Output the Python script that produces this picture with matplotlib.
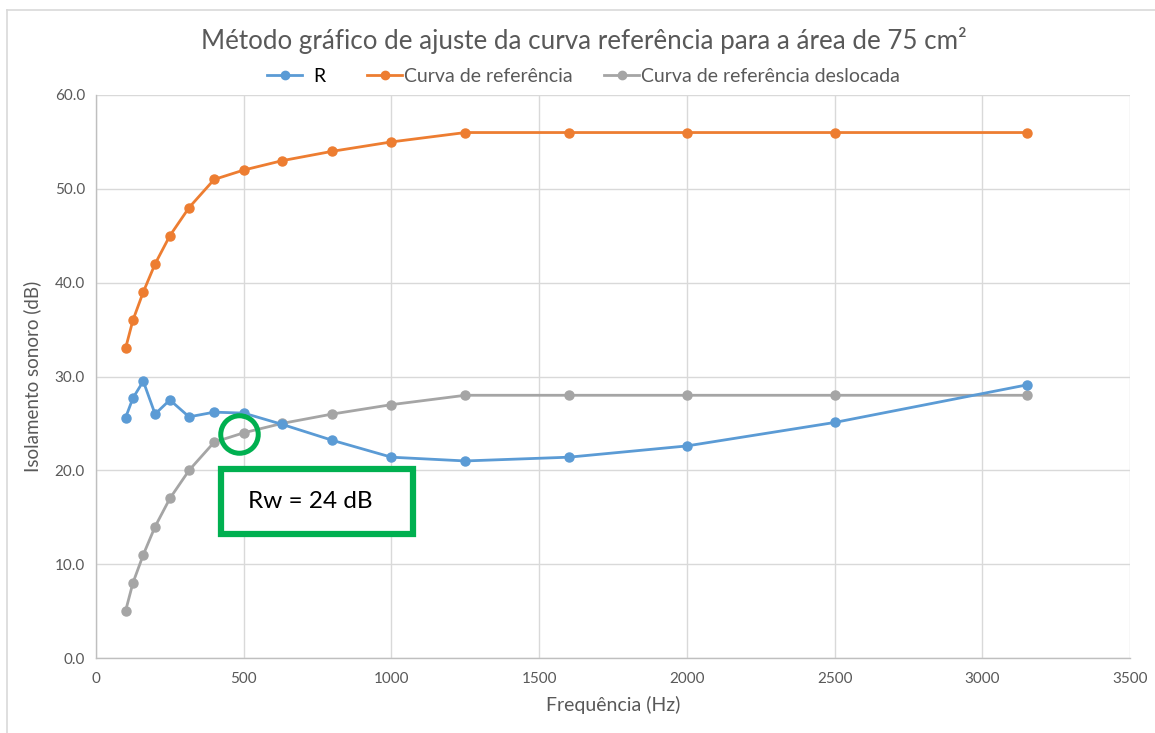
import matplotlib
matplotlib.use("Agg")
import matplotlib.pyplot as plt
from matplotlib.patches import Rectangle
from matplotlib.lines import Line2D

plt.rcParams['font.family'] = ['Lato', 'DejaVu Sans']

# Data
freqs = [100, 125, 160, 200, 250, 315, 400, 500, 630, 800, 1000, 1250, 1600, 2000, 2500, 3150]
r_values = [25.6, 27.7, 29.5, 26.0, 27.5, 25.7, 26.2, 26.1, 24.9, 23.2, 21.4, 21.0, 21.4, 22.6, 25.1, 29.1]
ref_curve = [33, 36, 39, 42, 45, 48, 51, 52, 53, 54, 55, 56, 56, 56, 56, 56]
ref_shifted = [5, 8, 11, 14, 17, 20, 23, 24, 25, 26, 27, 28, 28, 28, 28, 28]
x_ticks = [0, 500, 1000, 1500, 2000, 2500, 3000, 3500]
y_ticks = [0, 10, 20, 30, 40, 50, 60]
rw_freq = 500
rw_value = 24

blue = '#5B9BD5'
orange = '#ED7D31'
gray = '#A5A5A5'
green = '#00B050'
text_gray = '#595959'
grid_gray = '#D9D9D9'

W, H = 1155, 733
fig = plt.figure(figsize=(W / 100, H / 100), dpi=100)
ax = fig.add_axes([96 / W, 1 - 658 / H, (1130 - 96) / W, (658 - 95) / H])

style = dict(lw=2.0, marker='o', ms=6.5, solid_capstyle='round')
ax.plot(freqs, r_values, color=blue, label='R', zorder=4, **style)
ax.plot(freqs, ref_curve, color=orange, label='Curva de referência', zorder=3, **style)
ax.plot(freqs, ref_shifted, color=gray, label='Curva de referência deslocada', zorder=3, **style)

ax.set_xlim(0, 3500)
ax.set_ylim(0, 60)
ax.set_xticks(x_ticks)
ax.set_yticks(y_ticks)
ax.set_yticklabels([f'{v:.1f}' for v in y_ticks])
ax.grid(True, color=grid_gray, lw=1.0)
ax.set_axisbelow(True)
for side in ['top', 'right']:
    ax.spines[side].set_visible(False)
for side in ['left', 'bottom']:
    ax.spines[side].set_color('#BFBFBF')
    ax.spines[side].set_linewidth(1.0)
ax.tick_params(length=0, labelsize=11, colors=text_gray, pad=8)
ax.tick_params(axis='x', pad=10)

ax.set_xlabel('Frequência (Hz)', fontsize=14, color=text_gray, labelpad=7)
ax.set_ylabel('Isolamento sonoro (dB)', fontsize=13.5, color=text_gray, labelpad=10)

fig.text(0.5 * (197 + 970) / W, 1 - 40 / H,
         'Método gráfico de ajuste da curva referência para a área de 75 cm²',
         ha='center', va='center', fontsize=18.7, color=text_gray)

handles = [Line2D([], [], color=c, lw=2.0, marker='o', ms=6) for c in (blue, orange, gray)]
labels = ['  R  ', 'Curva de referência', 'Curva de referência deslocada']
leg = fig.legend(handles, labels, loc='center', bbox_to_anchor=(0.5 * (262 + 905) / W, 1 - 76 / H),
                 ncol=3, frameon=False, fontsize=14, handlelength=1.8, handletextpad=0.1,
                 columnspacing=1.6)
for t in leg.get_texts():
    t.set_color(text_gray)
leg.get_texts()[0].set_color('black')

# Highlight of the weighted index point
ax.plot([rw_freq - 15], [rw_value - 0.15], marker='o', ms=27, mfc='none', mec=green, mew=3.6,
        zorder=6, clip_on=False)

box = Rectangle((221 / W, 1 - 534 / H), (413 - 221) / W, (534 - 469) / H,
                transform=fig.transFigure, facecolor='white', edgecolor=green, lw=4.5, zorder=7)
fig.add_artist(box)
fig.text(310 / W, 1 - 501 / H, f'Rw = {rw_value} dB', ha='center', va='center',
         fontsize=17.5, color='black', zorder=8)

# Chart frame
fig.add_artist(Line2D([7 / W, 7 / W], [0, 1 - 10 / H], transform=fig.transFigure,
                      color='#D9D9D9', lw=1.2))
fig.add_artist(Line2D([7 / W, 1], [1 - 10 / H, 1 - 10 / H], transform=fig.transFigure,
                      color='#D9D9D9', lw=1.2))

fig.savefig('out.png', dpi=100, facecolor='white')
